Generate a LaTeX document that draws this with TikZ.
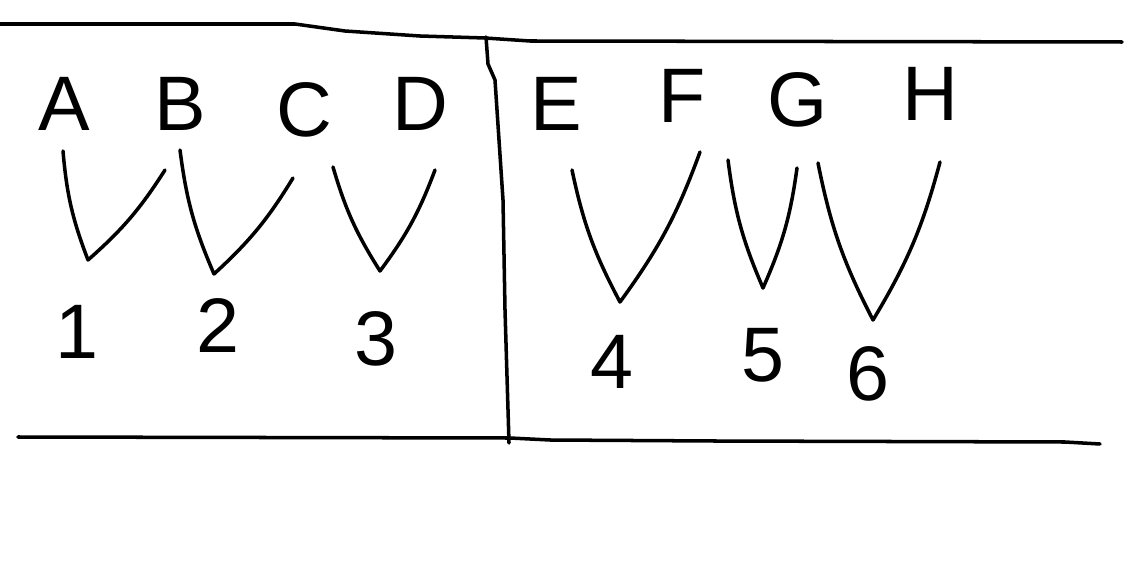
\documentclass[tikz,border=0pt]{standalone}
\usepackage{fontspec}
\setmainfont{Liberation Sans}
\usepackage{tikz}
\tikzset{every node/.append style={font=\fontsize{44}{44}\selectfont, inner sep=0pt}}
\tikzset{pen/.style={line width=2pt, line cap=round, line join=round},
         vee/.style={pen, bend right=8}}

\begin{document}
\begin{tikzpicture}[x=0.02cm, y=-0.02cm]
    \useasboundingbox (0,0) rectangle (1131,587);
    % frame and divider
    \draw[pen] (0,24) -- (295,24) -- (345,31) -- (420,36) -- (485,38) -- (530,41) -- (1122,42);
    \draw[pen] (486,37) -- (488,64) -- (495,80) -- (503,200) -- (505,310) -- (509,443);
    \draw[pen] (18,437) -- (510,438) -- (550,440) -- (715,441) -- (1065,442) -- (1100,444);
    % top row
    \node (A) at (64,104) {A};
    \node (B) at (180,104) {B};
    \node (C) at (304,110) {C};
    \node (D) at (420,104) {D};
    \node (E) at (556,104) {E};
    \node (F) at (682,96) {F};
    \node (G) at (798,100) {G};
    \node (H) at (930,94) {H};
    % bottom row
    \node (n1) at (77,332) {1};
    \node (n2) at (218,326) {2};
    \node (n3) at (376,339) {3};
    \node (n4) at (612,362) {4};
    \node (n5) at (763,355) {5};
    \node (n6) at (868,374) {6};
    % the vees
    \coordinate (v1l) at (63,151);  \coordinate (v1b) at (88,260);  \coordinate (v1r) at (165,170);
    \coordinate (v2l) at (180,150); \coordinate (v2b) at (214,274); \coordinate (v2r) at (293,178);
    \coordinate (v3l) at (333,167); \coordinate (v3b) at (380,271); \coordinate (v3r) at (435,170);
    \coordinate (v4l) at (572,170); \coordinate (v4b) at (620,302); \coordinate (v4r) at (700,152);
    \coordinate (v5l) at (728,160); \coordinate (v5b) at (763,288); \coordinate (v5r) at (797,168);
    \coordinate (v6l) at (818,163); \coordinate (v6b) at (873,320); \coordinate (v6r) at (940,162);
    \foreach \i in {1,...,6}
        \draw[vee] (v\i l) to (v\i b) to (v\i r);
\end{tikzpicture}
\end{document}
